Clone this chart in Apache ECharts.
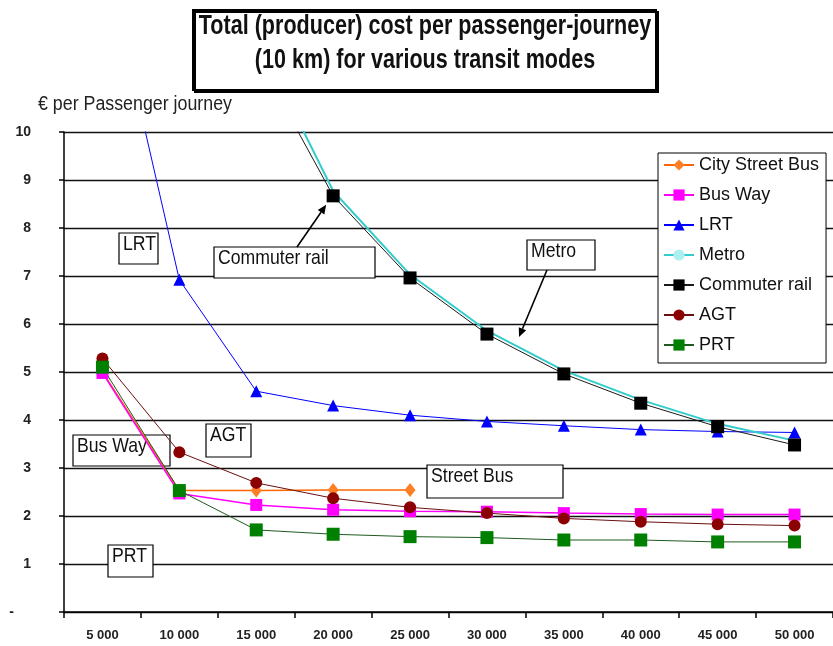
<!DOCTYPE html>
<html>
<head>
<meta charset="utf-8">
<script src="https://cdn.jsdelivr.net/npm/echarts/dist/echarts.min.js"></script>
<style>
  html, body { margin: 0; padding: 0; background: #fff; }
  #chart { width: 833px; height: 646px; }
</style>
</head>
<body>
<div id="chart"></div>
<script>
// Passenger volumes (x axis categories)
const categories = ['5 000', '10 000', '15 000', '20 000', '25 000', '30 000', '35 000', '40 000', '45 000', '50 000'];

// € per passenger journey, one array per transit mode
const cityStreetBus = [5.00, 2.53, 2.53, 2.54, 2.54, null, null, null, null, null];
const busWay        = [4.98, 2.47, 2.23, 2.13, 2.10, 2.09, 2.06, 2.04, 2.03, 2.03];
const lrt           = [13.9, 6.92, 4.60, 4.30, 4.10, 3.97, 3.88, 3.80, 3.76, 3.74];
const metro         = [null, null, 12.0, 8.77, 7.03, 5.86, 5.03, 4.42, 3.92, 3.57];
const commuterRail  = [null, null, 11.6, 8.67, 6.96, 5.79, 4.96, 4.35, 3.86, 3.48];
const agt           = [5.28, 3.33, 2.69, 2.37, 2.18, 2.06, 1.95, 1.88, 1.83, 1.80];
const prt           = [5.10, 2.53, 1.71, 1.62, 1.57, 1.55, 1.50, 1.50, 1.46, 1.46];

// y axis scale
const yMin = 0, yMax = 10, yStep = 1;

const FONT = '"Liberation Sans", Arial, sans-serif';

function lineSeries(name, data, color, lineColor, symbol, size, width) {
  return {
    name: name,
    type: 'line',
    data: data,
    symbol: symbol,
    symbolSize: size,
    showSymbol: symbol !== 'none',
    connectNulls: false,
    clip: true,
    animation: false,
    itemStyle: { color: color },
    lineStyle: { color: lineColor, width: width },
    emphasis: { disabled: true }
  };
}

const chart = echarts.init(document.getElementById('chart'), null, { renderer: 'canvas' });

const option = {
  backgroundColor: '#fff',
  animation: false,
  textStyle: { fontFamily: FONT },
  grid: { left: 64, top: 132, right: -11, bottom: 34, containLabel: false },
  legend: {
    orient: 'vertical',
    left: 658,
    top: 153,
    padding: [3, 7, 9, 5],
    itemWidth: 30,
    itemHeight: 14,
    itemGap: 12,
    backgroundColor: '#fff',
    borderColor: '#000',
    borderWidth: 1,
    textStyle: { fontFamily: FONT, fontSize: 18, color: '#111' },
    data: ['City Street Bus', 'Bus Way', 'LRT', 'Metro', 'Commuter rail', 'AGT', 'PRT']
  },
  xAxis: {
    type: 'category',
    data: categories,
    boundaryGap: true,
    axisLine: { lineStyle: { color: '#000', width: 1.5 } },
    axisTick: { show: true, length: 6, alignWithLabel: false, lineStyle: { color: '#000', width: 1.5 } },
    axisLabel: { margin: 17, fontFamily: FONT, fontSize: 13, fontWeight: 'bold', color: '#222' },
    splitLine: { show: false }
  },
  yAxis: {
    type: 'value',
    min: yMin,
    max: yMax,
    interval: yStep,
    axisLine: { show: true, lineStyle: { color: '#000', width: 1.5 } },
    axisTick: { show: true, length: 5, lineStyle: { color: '#000', width: 1.5 } },
    axisLabel: {
      margin: 33,
      fontFamily: FONT,
      fontSize: 14,
      fontWeight: 'bold',
      color: '#222',
      formatter: function (v) { return v === 0 ? '{z|-}' : String(v); },
      rich: { z: { fontFamily: FONT, fontSize: 14, fontWeight: 'bold', color: '#222', padding: [0, 17, 0, 0] } }
    },
    splitLine: { show: true, lineStyle: { color: '#111', width: 1.4 } }
  },
  series: [
    lineSeries('City Street Bus', cityStreetBus, '#FF7F27', '#FF6600', 'diamond', [11, 14], 1.5),
    lineSeries('Bus Way', busWay, '#FF00FF', '#FF00FF', 'rect', 12, 1.5),
    lineSeries('LRT', lrt, '#0000FF', '#0000FF', 'triangle', 12, 1),
    lineSeries('Metro', metro, '#AEEFEF', '#33CCCC', 'none', 0, 2),
    lineSeries('Commuter rail', commuterRail, '#000000', '#1a1a1a', 'rect', 13, 1),
    lineSeries('AGT', agt, '#8B0000', '#6b1010', 'circle', 12, 1),
    lineSeries('PRT', prt, '#008000', '#1f5a1f', 'rect', 13, 1)
  ]
};

chart.setOption(option);

// Text boxes and arrows drawn over the plot (condensed lettering via scaleX)
function textBox(x, y, w, h, label) {
  return {
    type: 'group',
    z: 50,
    children: [
      { type: 'rect', shape: { x: x, y: y, width: w, height: h },
        style: { fill: '#fff', stroke: '#000', lineWidth: 1.2 } },
      { type: 'text', x: x + 4, y: y + 1, scaleX: 0.84,
        style: { text: label, font: '21px ' + FONT, fill: '#111', textAlign: 'left', textVerticalAlign: 'top' } }
    ]
  };
}

function arrowLine(x1, y1, x2, y2) {
  const ang = Math.atan2(y2 - y1, x2 - x1);
  const len = 9, half = 4;
  const bx = x2 - len * Math.cos(ang), by = y2 - len * Math.sin(ang);
  const px = -Math.sin(ang) * half, py = Math.cos(ang) * half;
  return {
    type: 'group',
    z: 50,
    children: [
      { type: 'line', shape: { x1: x1, y1: y1, x2: bx, y2: by }, style: { stroke: '#000', lineWidth: 1.6 } },
      { type: 'polygon', shape: { points: [[x2, y2], [bx + px, by + py], [bx - px, by - py]] }, style: { fill: '#000' } }
    ]
  };
}

const commuterPt = chart.convertToPixel({ gridIndex: 0 }, [categories[3], commuterRail[3]]);

chart.setOption({
  graphic: [
    {
      type: 'group',
      z: 60,
      children: [
        { type: 'rect', shape: { x: 193, y: 10, width: 463, height: 80 },
          style: { fill: '#fff', stroke: '#000', lineWidth: 2, shadowColor: '#000', shadowOffsetX: 2, shadowOffsetY: 2, shadowBlur: 0 } },
        { type: 'text', x: 425, y: 43, scaleX: 0.77,
          style: { text: 'Total (producer) cost per passenger-journey\n(10 km) for various transit modes',
                   font: 'bold 28px ' + FONT, lineHeight: 34, fill: '#111', textAlign: 'center', textVerticalAlign: 'middle' } }
      ]
    },
    { type: 'text', x: 38, y: 104, z: 60, scaleX: 0.89,
      style: { text: '€ per Passenger journey', font: '20px ' + FONT, fill: '#222', textAlign: 'left', textVerticalAlign: 'middle' } },
    textBox(119, 233, 39, 31, 'LRT'),
    textBox(214, 247, 161, 31, 'Commuter rail'),
    textBox(527, 240, 68, 30, 'Metro'),
    textBox(73, 435, 97, 31, 'Bus Way'),
    textBox(206, 424, 45, 33, 'AGT'),
    textBox(108, 545, 45, 32, 'PRT'),
    textBox(427, 465, 136, 33, 'Street Bus'),
    arrowLine(297, 247, commuterPt[0] - 7, commuterPt[1] + 9),
    arrowLine(547, 270, 519, 337)
  ]
});
</script>
</body>
</html>
